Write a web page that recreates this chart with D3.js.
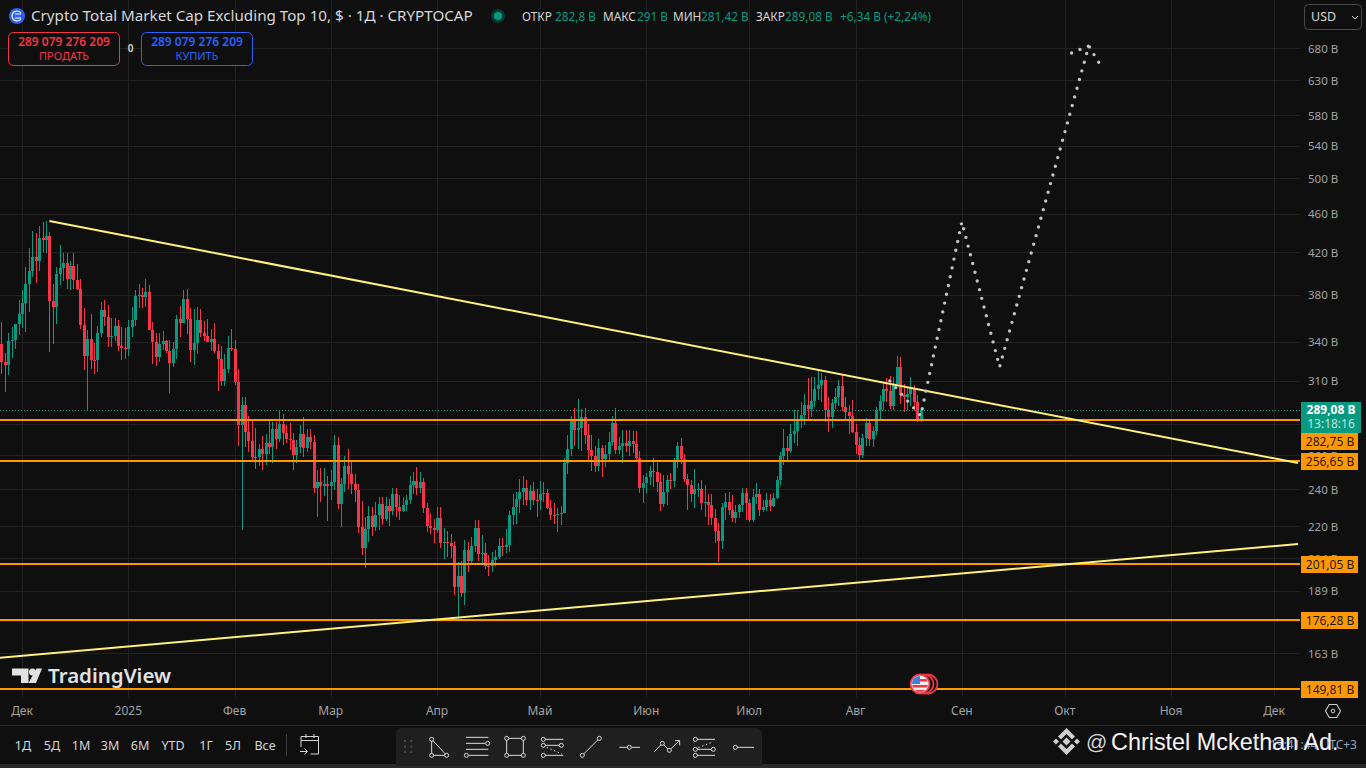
<!DOCTYPE html>
<html><head><meta charset="utf-8">
<script src="https://cdnjs.cloudflare.com/ajax/libs/d3/7.8.5/d3.min.js"></script>
<style>html,body{margin:0;padding:0;background:#0f0f0f;overflow:hidden}svg{display:block}text{font-family:"Noto Sans",sans-serif}</style>
</head><body><svg id="c" width="1366" height="768"></svg>
<script>
const firstDay = "2024-11-25";
const firstOpen = 338.2;
const closes = [324.2,321.9,340.6,341.4,354.5,363.0,372.6,389.6,401.7,415.2,
411.3,434.3,432.2,436.4,374.3,369.1,398.9,404.5,409.4,394.2,
406.5,393.3,385.0,353.7,328.8,342.2,325.7,325.4,347.0,366.5,
360.4,343.8,344.6,353.0,336.6,335.0,334.2,352.0,357.9,378.8,
379.6,377.9,382.3,349.5,339.8,328.0,338.2,340.6,332.6,323.5,
334.2,358.8,355.4,376.1,358.8,333.4,339.0,357.9,347.0,344.6,
339.8,342.2,332.6,326.5,310.0,318.9,335.0,334.2,309.2,279.4,
292.8,274.8,269.0,259.0,258.8,263.9,260.9,267.7,265.2,276.8,
270.3,280.1,274.2,270.3,269.6,260.3,265.2,273.5,264.6,271.5,
268.3,240.7,244.2,241.9,243.0,241.9,244.2,266.5,231.8,243.0,
253.6,248.8,243.0,239.6,219.6,209.0,218.5,225.4,219.6,225.9,
231.8,223.7,230.8,228.1,237.4,230.2,228.1,231.3,234.0,242.4,
244.7,240.7,244.2,229.7,220.1,219.0,218.0,224.3,211.5,212.0,
211.5,210.0,190.6,195.6,187.9,208.0,202.6,210.0,219.0,206.0,
206.5,200.3,200.1,203.1,204.6,210.0,209.5,210.5,225.9,230.2,
234.6,238.5,240.7,234.0,239.0,234.0,233.8,237.4,237.9,229.7,
225.9,225.7,226.4,227.0,255.4,263.9,283.4,276.1,277.4,284.7,
272.9,263.3,259.6,253.6,264.6,257.8,260.9,268.3,280.7,263.3,
265.8,267.7,265.8,269.0,267.1,258.4,240.7,243.6,247.1,250.6,
250.0,244.2,231.8,238.5,245.3,244.7,257.2,265.8,257.8,245.9,
242.4,237.4,240.2,240.3,232.4,232.9,231.3,224.3,217.5,212.5,
230.2,232.9,228.6,224.3,227.5,231.3,237.9,232.4,223.2,235.7,
237.4,228.6,230.2,234.0,230.8,235.1,245.3,259.6,264.6,262.7,
273.5,275.5,283.4,286.0,292.8,290.1,295.6,304.1,307.0,310.7,
289.4,284.7,294.2,298.4,306.3,291.4,288.1,285.4,274.8,266.5,
260.3,270.9,280.7,270.3,275.5,289.4,295.6,304.1,302.7,292.1,
307.7,320.4,299.8,298.4,300.6,304.9,294.9,282.8,289.08];
const highs = [356.2,330.9,346.8,352.3,354.5,375.2,384.1,405.8,424.1,441.6,
439.5,446.8,451.1,452.1,440.5,389.6,405.5,427.1,419.2,419.2,
411.3,419.2,408.4,394.2,368.2,349.5,363.0,338.8,353.0,373.5,
375.2,370.8,359.6,359.6,357.9,352.3,351.2,357.9,369.1,384.1,
389.6,385.9,394.2,388.7,356.2,347.0,347.0,348.7,341.4,341.4,
339.8,362.2,370.0,384.1,385.0,368.2,367.4,369.1,367.4,357.1,
358.8,350.3,355.4,338.2,336.6,330.3,344.6,350.3,341.4,318.9,
298.3,298.4,285.4,282.0,277.4,267.1,272.2,273.5,283.4,281.4,
281.4,289.4,286.7,279.4,280.7,274.2,269.6,279.4,284.7,276.8,
276.8,272.9,251.2,252.4,252.4,247.6,251.2,272.9,271.5,246.5,
259.6,263.9,257.2,248.8,243.0,233.5,224.8,230.8,230.2,232.9,
235.7,235.7,235.7,234.6,240.7,240.7,236.8,235.7,236.8,247.6,
250.0,253.0,250.0,246.5,232.4,227.0,223.7,230.2,230.2,219.0,
217.5,216.0,212.5,202.2,202.6,213.0,212.0,214.5,223.2,223.2,
215.5,211.5,205.6,207.0,208.0,214.0,214.0,218.5,228.1,237.4,
238.5,245.9,247.6,245.3,242.4,244.2,240.2,244.7,244.2,240.2,
234.0,232.4,229.7,230.8,258.4,272.9,285.4,290.8,297.0,290.1,
290.8,280.1,272.9,265.8,270.3,266.5,266.5,274.8,285.4,290.8,
271.5,276.1,276.1,276.1,275.5,275.5,262.7,248.2,249.4,253.6,
258.4,255.4,249.4,248.2,248.2,249.4,258.4,268.3,270.9,260.9,
248.8,245.3,251.8,243.6,245.3,242.4,237.4,237.4,229.1,221.6,
232.4,237.9,238.5,236.8,231.3,231.8,240.7,240.7,234.6,240.2,
243.6,240.2,234.0,237.9,237.4,237.9,247.6,262.1,276.8,272.2,
280.1,289.4,289.4,294.9,300.6,312.2,313.0,313.0,318.9,315.9,
313.7,298.4,297.0,304.9,310.7,314.4,298.4,292.8,296.3,280.1,
271.5,273.5,284.0,282.7,278.7,291.4,299.8,309.2,312.2,313.7,
313.0,328.8,328.0,307.7,304.9,313.0,307.0,299.8,291.0];
const lows = [315.1,302.2,314.4,327.0,334.0,345.4,350.9,348.1,365.0,396.4,
390.5,401.7,420.1,419.2,331.9,338.2,354.5,388.7,392.4,385.0,
384.1,385.0,384.1,350.3,318.1,289.4,318.9,315.1,316.6,343.8,
353.0,335.8,335.8,340.6,332.6,325.7,326.5,328.8,343.8,353.0,
368.2,368.2,369.1,349.5,322.7,321.2,324.2,333.4,331.0,301.3,
320.4,326.5,343.8,356.2,346.2,324.2,321.9,330.3,343.8,340.6,
339.8,332.6,331.1,302.7,306.3,306.3,315.9,332.6,307.0,265.8,
218.0,265.2,262.1,256.0,251.8,253.6,251.2,254.2,260.9,255.4,
263.9,268.3,266.5,267.7,263.3,251.2,255.4,261.5,259.0,262.1,
263.9,237.9,224.8,232.9,236.2,222.7,234.0,239.6,229.1,219.6,
238.5,240.2,237.4,232.9,216.5,205.6,199.3,212.0,215.0,217.5,
218.0,220.6,222.7,220.1,225.9,224.8,223.2,227.5,228.1,231.8,
237.4,236.8,237.9,227.0,217.0,216.0,211.5,216.5,209.0,203.6,
204.6,204.1,187.0,175.9,186.1,182.7,197.5,201.7,207.0,202.6,
201.2,198.9,195.6,197.5,200.3,203.6,205.1,206.5,207.0,220.6,
221.1,227.0,231.3,231.3,228.6,231.3,224.8,228.6,232.9,229.1,
223.2,221.1,217.0,220.6,227.5,248.8,259.6,265.8,263.9,262.7,
267.1,256.0,250.6,250.0,250.6,247.1,253.0,257.2,265.8,260.9,
260.9,255.4,262.1,259.6,261.5,257.2,237.9,232.4,237.9,242.4,
241.3,238.5,228.1,230.2,231.3,240.2,241.3,252.4,254.8,244.2,
228.6,232.9,229.7,235.7,228.6,224.8,220.6,220.6,211.5,202.2,
208.5,223.2,225.9,222.2,221.6,224.3,227.5,223.2,222.2,222.2,
231.8,225.4,227.5,228.1,228.1,230.2,234.6,242.4,254.2,256.0,
261.5,267.7,265.8,277.4,279.4,282.0,284.7,291.4,296.3,294.9,
281.4,274.8,277.4,290.1,292.1,288.7,282.0,273.5,274.2,260.9,
256.0,258.4,265.8,265.8,265.2,272.9,282.7,289.4,294.9,290.1,
289.4,306.3,293.5,288.1,289.4,292.1,288.7,281.4,281.42];
const priceTicks = [680,630,580,540,500,460,420,380,340,310,280,260,240,220,204,189,176,163,150];
const priceTickLabels = [680,630,580,540,500,460,420,380,340,310,260,240,220,204,189,163];
const monthStarts = ["2024-12-01","2025-01-01","2025-02-01","2025-03-01","2025-04-01","2025-05-01","2025-06-01","2025-07-01","2025-08-01","2025-09-01","2025-10-01","2025-11-01","2025-12-01"];
const monthLabels = ["Дек","2025","Фев","Мар","Апр","Май","Июн","Июл","Авг","Сен","Окт","Ноя","Дек"];
const levels = [282.75,256.65,201.05,176.28,149.81];
const levelLabels = ["282,75 B","256,65 B","201,05 B","176,28 B","149,81 B"];
const lastPrice = 289.08;
const trendDates = [["2024-12-09","2025-12-08"],["2024-11-24","2025-12-08"]];
const trendValues = [[452.1,255.4],[161.2,210.9]];
const forecastDates = ["2025-08-11","2025-08-20","2025-09-01","2025-09-12","2025-10-08","2025-10-11"];
const forecastValues = [310,285.4,451.1,320.4,683.3,656.5];
const forecastBranchDates = ["2025-10-03","2025-10-08"];
const forecastBranchValues = [672.1,683.3];
const rangeButtons = ["1Д","5Д","1М","3М","6М","YTD","1Г","5Л","Все"];

const svg = d3.select("#c");
const parse = d3.utcParse("%Y-%m-%d");
const x = d3.scaleUtc().domain([parse("2024-12-01"),parse("2025-12-01")]).range([22,1274]);
const y = d3.scaleLog().domain([149.81,680]).range([689,48]);
const opens = [firstOpen,...closes.slice(0,-1)];
const start = parse(firstDay);
const candles = closes.map((c,i)=>({d:d3.utcDay.offset(start,i),o:opens[i],h:highs[i],l:lows[i],c}));
const GREEN="#089981",RED="#f7344a",ORANGE="#ff9800",AXIS="#a3a3a3",LIGHT="#d6d6d6";
const defs=svg.append("defs");
defs.append("clipPath").attr("id","pane").append("rect").attr("width",1300).attr("height",697);
const pane=svg.append("g").attr("clip-path","url(#pane)");

// grid
pane.append("g").selectAll("line").data(monthStarts).join("line").attr("x1",d=>Math.round(x(parse(d)))+.5).attr("x2",d=>Math.round(x(parse(d)))+.5).attr("y1",0).attr("y2",697).attr("stroke","#212121");
pane.append("g").selectAll("line").data(priceTicks).join("line").attr("y1",d=>Math.round(y(d))+.5).attr("y2",d=>Math.round(y(d))+.5).attr("x1",0).attr("x2",1300).attr("stroke","#212121");

// candles
const cg=pane.append("g").attr("shape-rendering","crispEdges");
const col=d=>d.c>=d.o?GREEN:RED;
cg.selectAll("rect.w").data(candles).join("rect").attr("class","w")
  .attr("x",d=>Math.round(x(d.d))).attr("width",1).attr("y",d=>y(d.h)).attr("height",d=>y(d.l)-y(d.h)).attr("fill",col);
cg.selectAll("rect.b").data(candles).join("rect").attr("class","b")
  .attr("x",d=>Math.round(x(d.d))-1).attr("width",3).attr("y",d=>y(Math.max(d.o,d.c))).attr("height",d=>Math.max(1,y(Math.min(d.o,d.c))-y(Math.max(d.o,d.c)))).attr("fill",col);

// last price line
pane.append("line").attr("x1",0).attr("x2",1300).attr("y1",Math.round(y(lastPrice))+.5).attr("y2",Math.round(y(lastPrice))+.5).attr("stroke",GREEN).attr("stroke-dasharray","1 2");

// levels
pane.append("g").selectAll("line").data(levels).join("line").attr("x1",0).attr("x2",1300).attr("y1",d=>Math.round(y(d))).attr("y2",d=>Math.round(y(d))).attr("stroke",ORANGE).attr("stroke-width",2).attr("shape-rendering","crispEdges");

// trends
pane.append("g").selectAll("line").data(trendDates).join("line")
 .attr("x1",d=>x(parse(d[0]))).attr("x2",d=>x(parse(d[1])))
 .attr("y1",(d,i)=>y(trendValues[i][0])).attr("y2",(d,i)=>y(trendValues[i][1]))
 .attr("stroke","#fff07c").attr("stroke-width",2);

// forecast dots
const line=d3.line().x(d=>x(d[0])).y(d=>y(d[1]));
const dotted=(ds,vs)=>pane.append("path").attr("d",line(ds.map((d,i)=>[parse(d),vs[i]]))).attr("fill","none").attr("stroke","#c4c4c4").attr("stroke-width",3.4).attr("stroke-linecap","round").attr("stroke-dasharray","0 9");
dotted(forecastDates,forecastValues);
dotted(forecastBranchDates,forecastBranchValues);

// tv logo
const logo=svg.append("g").attr("fill","#e2e2e2");
logo.append("path").attr("d","M12 668.5h16.5v14.5h-7.5v-7.5h-9z");
logo.append("circle").attr("cx",32.5).attr("cy",672).attr("r",3.5);
logo.append("path").attr("d","M36.5 668.5h5.5l-6 14.5h-7.5z");
logo.append("text").attr("x",48).attr("y",683).attr("font-size",20.5).attr("font-weight",600).text("TradingView");

// news marker
const mk=svg.append("g");
[928,924].forEach(cx=>mk.append("circle").attr("cx",cx).attr("cy",684).attr("r",9.5).attr("fill","#0f0f0f").attr("stroke","#f23645").attr("stroke-width",1.8));
mk.append("circle").attr("cx",920).attr("cy",684).attr("r",9.5).attr("fill","#f0f0f0").attr("stroke","#f23645").attr("stroke-width",1.8);
defs.append("clipPath").attr("id","flag").append("circle").attr("cx",920).attr("cy",684).attr("r",8);
const fl=mk.append("g").attr("clip-path","url(#flag)");
[679,685,690].forEach(v=>fl.append("rect").attr("x",910).attr("y",v).attr("width",20).attr("height",2.5).attr("fill","#f23645"));
fl.append("rect").attr("x",910).attr("y",675).attr("width",10).attr("height",9).attr("fill","#3d7fe0");

// price axis
svg.append("g").selectAll("text").data(priceTickLabels).join("text").attr("x",1308).attr("y",d=>y(d)+4.5).attr("font-size",11.5).attr("fill",AXIS).text(d=>d+" B");
const boxY=[433,453,556,612,681];
const lb=svg.append("g");
levels.forEach((v,i)=>{
  lb.append("rect").attr("x",1301).attr("y",boxY[i]).attr("width",57).attr("height",17).attr("fill",ORANGE);
  lb.append("text").attr("x",1330).attr("y",boxY[i]+13).attr("text-anchor","middle").attr("font-size",12).attr("fill","#1a1a1a").text(levelLabels[i]);
});
lb.append("rect").attr("x",1301).attr("y",402).attr("width",60).attr("height",31).attr("fill",GREEN);
lb.append("text").attr("x",1331).attr("y",414).attr("text-anchor","middle").attr("font-size",12).attr("font-weight",700).attr("fill","#fff").text("289,08 B");
lb.append("text").attr("x",1331).attr("y",428).attr("text-anchor","middle").attr("font-size",12).attr("fill","#bfe6dd").text("13:18:16");

// time axis
svg.append("g").selectAll("text").data(monthStarts).join("text").attr("x",d=>x(parse(d))).attr("y",715).attr("text-anchor","middle").attr("font-size",12).attr("fill",AXIS).text((d,i)=>monthLabels[i]);
svg.append("path").attr("d",d3.range(6).map(i=>{const a=Math.PI/3*i;return (i?"L":"M")+(1333+7.5*Math.cos(a))+" "+(711+7.5*Math.sin(a));}).join("")+"Z").attr("fill","none").attr("stroke","#d0d0d0").attr("stroke-width",1.1);
svg.append("circle").attr("cx",1333).attr("cy",711).attr("r",1.8).attr("fill","none").attr("stroke","#d0d0d0");
svg.append("rect").attr("x",0).attr("y",725).attr("width",1366).attr("height",1).attr("fill","#2a2a2a");
svg.append("rect").attr("x",0).attr("y",764).attr("width",1366).attr("height",4).attr("fill","#2a2a2a");

// bottom range buttons
const btnX=[23,52,81,110,140,173,206,233,265];
svg.append("g").selectAll("text").data(rangeButtons).join("text").attr("x",(d,i)=>btnX[i]).attr("y",750).attr("text-anchor","middle").attr("font-size",12.5).attr("fill",LIGHT).text(d=>d);
svg.append("rect").attr("x",286).attr("y",734).attr("width",1).attr("height",22).attr("fill","#3a3a3a");
const cal=svg.append("g").attr("fill","none").attr("stroke",LIGHT);
cal.append("path").attr("d","M301 747v-10.5h17.5v17.5h-8M301 740.5h17.5M306 734v4M314 734v4M300 751.5h7M304.5 748.5l3 3-3 3");

// drawing toolbar
svg.append("path").attr("d","M396 764v-30a6 6 0 0 1 6-6h354a6 6 0 0 1 6 6v30z").attr("fill","#1f1f1f");
svg.append("rect").attr("x",396).attr("y",764).attr("width",366).attr("height",2).attr("fill","#1f1f1f");
const T=svg.append("g").attr("stroke","#dcdcdc").attr("fill","none").attr("stroke-width",1);
const X=v=>390+v/3,Y=v=>700+v/3;
const seg=(a,b,c,d,dash)=>{const l=T.append("line").attr("x1",X(a)).attr("y1",Y(b)).attr("x2",X(c)).attr("y2",Y(d));if(dash)l.attr("stroke-dasharray","1.5 2.5");};
const circ=(a,b)=>T.append("circle").attr("cx",X(a)).attr("cy",Y(b)).attr("r",2).attr("fill","#1f1f1f");
[[45,123],[64,123],[45,140],[64,140],[45,156],[64,156]].forEach(p=>svg.append("rect").attr("x",X(p[0])-1).attr("y",Y(p[1])-1).attr("width",2).attr("height",2).attr("fill","#4a4a4a"));
seg(125,118,125,166);seg(125,166,170,166);seg(125,118,170,166);[[125,118],[125,166],[170,166]].forEach(p=>circ(...p));
seg(228,112,295,112);seg(228,130,285,130);seg(228,148,295,148);seg(235,166,295,166);circ(293,130);circ(229,166);
seg(350,115,400,115);seg(400,115,400,166);seg(400,166,350,166);seg(350,166,350,115);[[350,115],[400,115],[350,166],[400,166]].forEach(p=>circ(...p));
seg(465,118,520,118);seg(465,136,520,136);seg(465,166,520,166);seg(470,142,516,162,1);[[460,118],[460,136],[514,136],[460,166]].forEach(p=>circ(...p));
seg(577,166,628,115);circ(577,166);circ(628,115);
seg(688,142,750,142);circ(718,142);
T.append("polyline").attr("points",[[793,155],[817,130],[838,151],[868,122]].map(p=>X(p[0])+","+Y(p[1])).join(" "));
T.append("polyline").attr("points",[[855,122],[869,122],[869,136]].map(p=>X(p[0])+","+Y(p[1])).join(" "));circ(817,130);circ(838,151);
seg(920,118,975,118);seg(920,148,975,148);seg(920,166,975,166);seg(925,143,970,125,1);[[916,118],[916,148],[970,148],[916,166]].forEach(p=>circ(...p));
seg(1040,142,1092,142);circ(1036,142);

// clock and watermark
svg.append("text").attr("x",1357).attr("y",749).attr("text-anchor","end").attr("font-size",12).attr("fill","#8fa4c0").text("13:41:44 UTC+3");
const bn=svg.append("g").attr("fill","#cfcfcf");
const dm=(cx,cy,r)=>bn.append("path").attr("d",`M${cx} ${cy-r}L${cx+r} ${cy}L${cx} ${cy+r}L${cx-r} ${cy}Z`);
dm(1066.5,741.5,4);dm(1056,741.5,3);dm(1077,741.5,3);
bn.append("path").attr("d","M1066.5 728l8.5 8.5-3 3-5.5-5.5-5.5 5.5-3-3z");
bn.append("path").attr("d","M1066.5 755l8.5-8.5-3-3-5.5 5.5-5.5-5.5-3 3z");
svg.append("text").attr("x",1086).attr("y",749).attr("font-size",21).attr("fill","#d5d5d5").style("font-family","'Liberation Sans'").text("@");
svg.append("text").attr("x",1111).attr("y",750).attr("font-size",23.4).attr("fill","#f5f5f5").style("font-family","'Liberation Sans'").text("Christel Mckethan Ad.");

// header
svg.append("circle").attr("cx",17).attr("cy",16).attr("r",8).attr("fill","#2f5fe8");
svg.append("path").attr("d","M21 13a5 5 0 1 0 0 6M15 14h6M15 18h6").attr("fill","none").attr("stroke","#fff").attr("stroke-width",1.2);
svg.append("text").attr("x",31).attr("y",21).attr("font-size",15.2).attr("fill","#d8d8d8").text("Crypto Total Market Cap Excluding Top 10, $ · 1Д · CRYPTOCAP");
svg.append("circle").attr("cx",498).attr("cy",16).attr("r",7).attr("fill","#0b3a33");
svg.append("circle").attr("cx",498).attr("cy",16).attr("r",4).attr("fill",GREEN);
const hdr=[["ОТКР",522,LIGHT],["282,8 B",555,GREEN],["МАКС",603,LIGHT],["291 B",637,GREEN],["МИН",673,LIGHT],["281,42 B",701,GREEN],["ЗАКР",756,LIGHT],["289,08 B",785,GREEN],["+6,34 B (+2,24%)",840,GREEN]];
svg.append("g").selectAll("text").data(hdr).join("text").attr("x",d=>d[1]).attr("y",20.5).attr("font-size",11.8).attr("fill",d=>d[2]).text(d=>d[0]);

// buttons
const btn=(bx,c,l)=>{
 svg.append("rect").attr("x",bx+.5).attr("y",32.5).attr("width",111).attr("height",33).attr("rx",5).attr("fill","#0f0f0f").attr("stroke",c);
 svg.append("text").attr("x",bx+56).attr("y",46).attr("text-anchor","middle").attr("font-size",12).attr("font-weight",600).attr("fill",c).text("289 079 276 209");
 svg.append("text").attr("x",bx+56).attr("y",60).attr("text-anchor","middle").attr("font-size",11).attr("fill",c).text(l);
};
btn(8,"#f23645","ПРОДАТЬ");btn(141,"#2962ff","КУПИТЬ");
svg.append("text").attr("x",130.5).attr("y",52).attr("text-anchor","middle").attr("font-size",10).attr("font-weight",600).attr("fill","#d8d8d8").text("0");

// currency
svg.append("rect").attr("x",1304.5).attr("y",4.5).attr("width",57).attr("height",25).attr("rx",4).attr("fill","#0f0f0f").attr("stroke","#4a4a4a");
svg.append("text").attr("x",1311).attr("y",21).attr("font-size",12.5).attr("fill",LIGHT).text("USD");
svg.append("path").attr("d","M1352 16l3 3 3-3").attr("fill","none").attr("stroke",LIGHT);
</script></body></html>
